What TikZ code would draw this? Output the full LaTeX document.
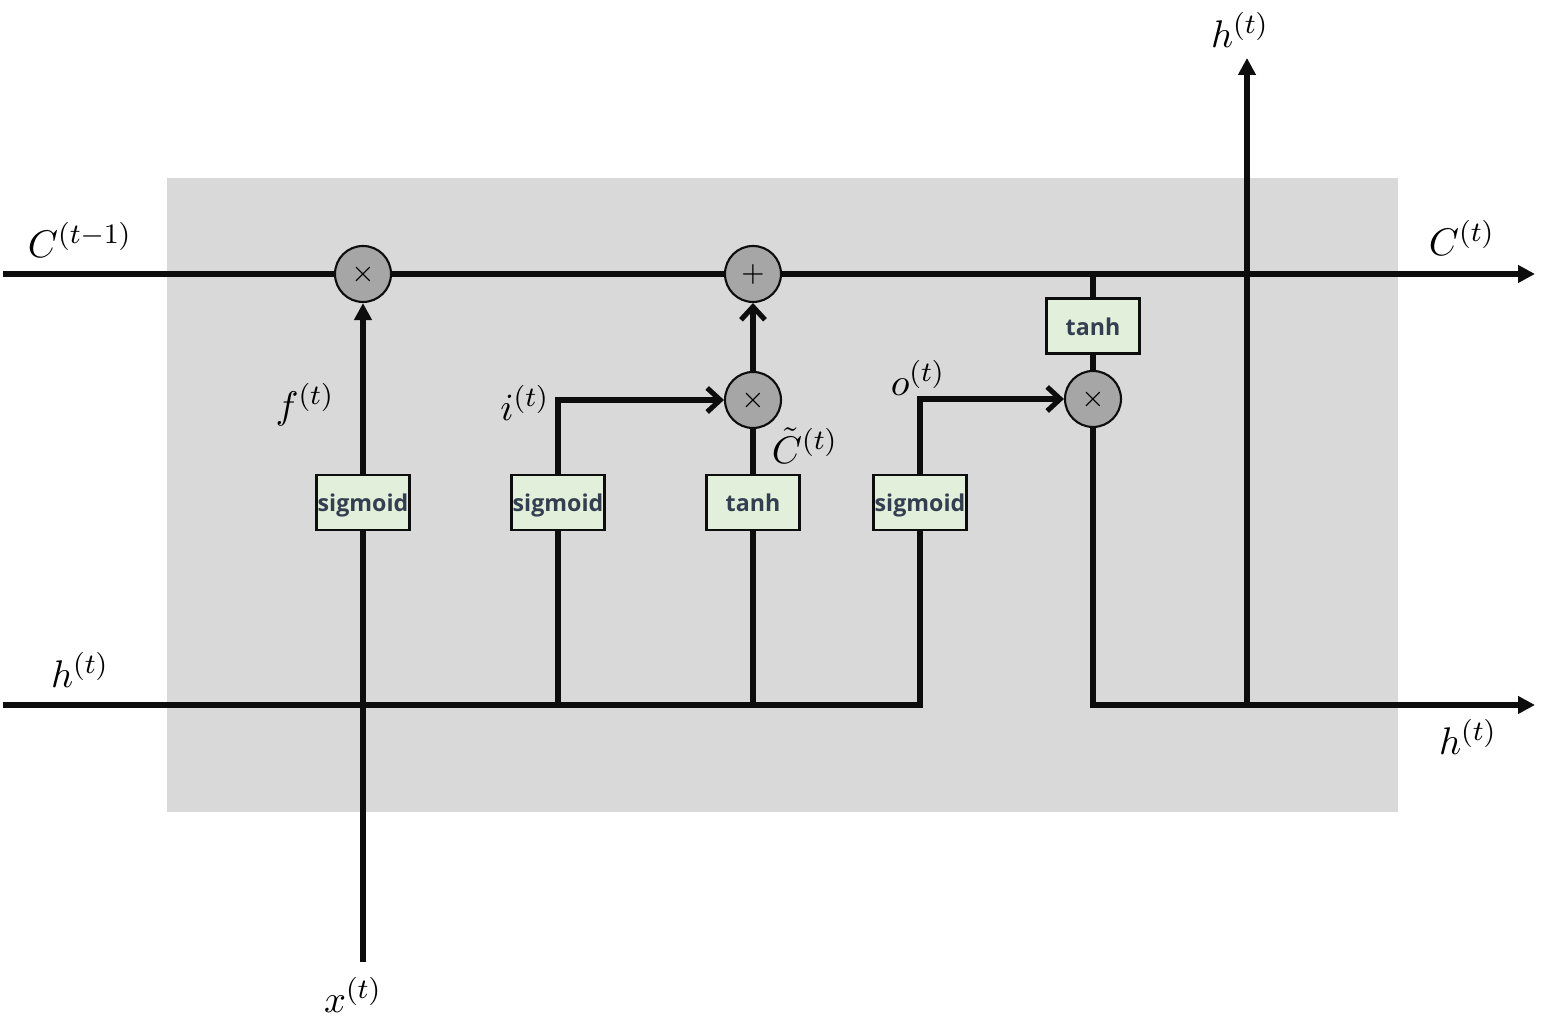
\documentclass[tikz,border=0pt]{standalone}
\usepackage{amsmath}
\usepackage{fontspec}
\usepackage{tikz}
\usetikzlibrary{arrows.meta, positioning, calc}
\newfontfamily\gatefont{Open Sans}
\definecolor{CellGray}{HTML}{D9D9D9}
\definecolor{OpGray}{HTML}{A6A6A6}
\definecolor{GateGreen}{HTML}{E2EFDA}
\definecolor{GateText}{HTML}{333F50}
\definecolor{WireBlack}{HTML}{0D0D0D}

\begin{document}
\begin{tikzpicture}[
    wire/.style={WireBlack, line width=1.45pt},
    flow/.style={wire, -{Triangle[length=0.17cm, width=0.17cm]}},
    feed/.style={wire, -{Straight Barb[length=0.13cm, width=0.24cm]}},
    op/.style={circle, draw=WireBlack, line width=0.6pt, fill=OpGray,
               minimum size=0.56cm, inner sep=0pt, font=\fontsize{8}{9}\selectfont},
    gate/.style={draw=WireBlack, line width=0.6pt, fill=GateGreen,
                 minimum width=0.93cm, minimum height=0.55cm, inner sep=0pt,
                 text height=0.19cm, text depth=0pt,
                 text=GateText, font=\gatefont\bfseries\fontsize{6.6}{8}\selectfont},
    lbl/.style={inner sep=0.5pt, font=\fontsize{11}{13}\selectfont}
]
    \useasboundingbox (0,0) rectangle (15.63,10.31);

    % The cell body
    \fill[CellGray] (1.67,2.19) rectangle (13.98,8.53);

    % Pointwise operations
    \node[op] (fmul) at (3.63,7.57) {$\times$};
    \node[op] (add)  at (7.53,7.57) {$+$};
    \node[op] (imul) at (7.53,6.31) {$\times$};
    \node[op] (omul) at (10.93,6.32) {$\times$};

    % Gate layers
    \node[gate] (fgate) at (3.63,5.285) {sigmoid};
    \node[gate] (igate) at (5.58,5.285) {sigmoid};
    \node[gate] (cgate) at (7.53,5.285) {tanh};
    \node[gate] (ogate) at (9.20,5.285) {sigmoid};
    \node[gate] (hgate) at (10.93,7.05) {tanh};

    % Free ends and taps
    \coordinate (cin)    at (0.03,7.57);
    \coordinate (cout)   at (15.35,7.57);
    \coordinate (hin)    at (0.03,3.26);
    \coordinate (hout)   at (15.35,3.26);
    \coordinate (xin)    at (3.63,0.69);
    \coordinate (ctap)   at (10.93,7.57);
    \coordinate (hsplit) at (12.47,3.26);
    \coordinate (htop)   at (12.47,9.73);

    % Cell state path
    \draw[wire] (cin) -- (fmul);
    \draw[wire] (fmul) -- (add);
    \draw[flow] (add) -- (cout);

    % Hidden state in, feeding the gates
    \draw[wire] (hin) -- (ogate |- hin) -- (ogate);
    \draw[wire] (igate) -- (igate |- hin);
    \draw[wire] (cgate) -- (cgate |- hin);

    % Input x
    \draw[wire] (xin) -- (fgate);
    \draw[flow] (fgate) -- (fmul);

    % Gates to the operations
    \draw[feed] (igate) |- (imul);
    \draw[wire] (cgate) -- (imul);
    \draw[feed] (imul) -- (add);
    \draw[feed] (ogate) |- (omul);

    % Output
    \draw[wire] (ctap) -- (hgate);
    \draw[wire] (hgate) -- (omul);
    \draw[flow] (omul) |- (hout);
    \draw[flow] (hsplit) -- (htop);

    % Labels
    \node[lbl] (cprevlbl) at (0.80,7.91) {$C^{(t-1)}$};
    \node[lbl] (cnextlbl) at (14.62,7.93) {$C^{(t)}$};
    \node[lbl] (hinlbl)   at (0.80,3.61) {$h^{(t)}$};
    \node[lbl] (houtlbl)  at (14.68,2.94) {$h^{(t)}$};
    \node[lbl] (htoplbl)  at (12.40,10.01) {$h^{(t)}$};
    \node[lbl] (xlbl)     at (3.53,0.36) {$x^{(t)}$};
    \node[lbl] (flbl)     at (3.05,6.26) {$f^{(t)}$};
    \node[lbl] (ilbl)     at (5.25,6.28) {$i^{(t)}$};
    \node[lbl] (ctlbl)    at (8.05,5.85) {$\tilde{C}^{(t)}$};
    \node[lbl] (olbl)     at (9.18,6.53) {$o^{(t)}$};
\end{tikzpicture}
\end{document}
